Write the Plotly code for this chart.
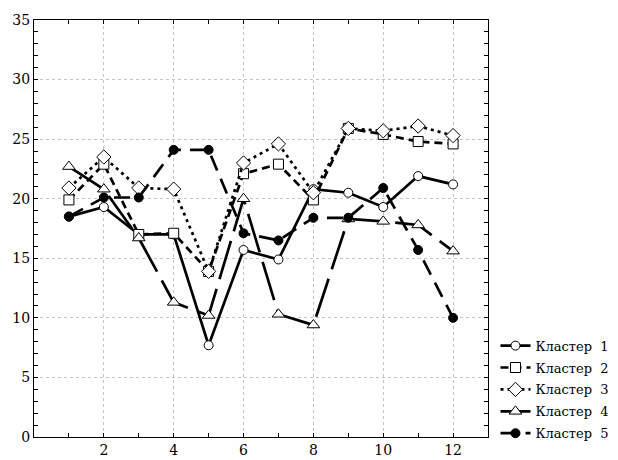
import plotly.graph_objects as go

months = [1, 2, 3, 4, 5, 6, 7, 8, 9, 10, 11, 12]
names = ["Кластер\u00a0\u00a01", "Кластер\u00a0\u00a02", "Кластер\u00a0\u00a03",
         "Кластер\u00a0\u00a04", "Кластер\u00a0\u00a05"]

cluster1 = [18.5, 19.3, 17.0, 17.0, 7.7, 15.7, 14.9, 20.8, 20.5, 19.3, 21.9, 21.2]
cluster2 = [19.9, 22.9, 17.0, 17.1, 13.9, 22.1, 22.9, 19.9, 25.9, 25.4, 24.8, 24.6]
cluster3 = [20.9, 23.5, 20.9, 20.8, 13.9, 23.0, 24.6, 20.5, 25.9, 25.7, 26.1, 25.3]
cluster4 = [22.7, 20.8, 16.7, 11.3, 10.2, 20.0, 10.3, 9.4, 18.3, 18.1, 17.8, 15.6]
cluster5 = [18.5, 20.1, 20.1, 24.1, 24.1, 17.1, 16.5, 18.4, 18.4, 20.9, 15.7, 10.0]

x_tick_vals = [2, 4, 6, 8, 10, 12]
y_tick_vals = [0, 5, 10, 15, 20, 25, 30, 35]

series = [cluster1, cluster2, cluster3, cluster4, cluster5]
styles = [
    dict(dash="solid", symbol="circle", size=9, fill="white"),
    dict(dash="8px,5px", symbol="square", size=10, fill="white"),
    dict(dash="3px,4px", symbol="diamond", size=11, fill="white"),
    dict(dash="40px,10px", symbol="triangle-up", size=11, fill="white"),
    dict(dash="16px,9px", symbol="circle", size=9, fill="black"),
]

SERIF = "DejaVu Serif"

fig = go.Figure()
for i, (name, vals, st) in enumerate(zip(names, series, styles)):
    fig.add_trace(go.Scatter(
        x=months, y=vals, name=name, mode="lines+markers",
        legendgroup=f"g{i}",
        line=dict(color="black", width=2.7, dash=st["dash"]),
        marker=dict(symbol=st["symbol"], size=st["size"], color=st["fill"],
                    line=dict(color="black", width=1)),
    ))

axis_common = dict(
    showline=True, linecolor="black", linewidth=1, mirror="allticks",
    ticks="inside", ticklen=4, tickcolor="black",
    showgrid=True, gridcolor="#c4c4c4", griddash="dot", gridwidth=1,
    zeroline=False, automargin=False,
    tickfont=dict(family=SERIF, size=14, color="black"),
)

fig.update_xaxes(range=[0, 13], tickvals=x_tick_vals,
                 minor=dict(dtick=1, tick0=0, ticks="inside", ticklen=4,
                            tickcolor="black", showgrid=False),
                 **axis_common)
fig.update_yaxes(range=[0, 35], tickvals=y_tick_vals,
                 minor=dict(dtick=1, tick0=0, ticks="inside", ticklen=4,
                            tickcolor="black", showgrid=False),
                 **axis_common)

# page body has an 8px margin: figure is shrunk by 8px on each dimension
fig.update_layout(
    width=610, height=452,
    margin=dict(l=26, r=130, t=12, b=23, autoexpand=False),
    paper_bgcolor="white", plot_bgcolor="white",
    font=dict(family=SERIF, color="black"),
    showlegend=True,
    legend=dict(x=1.0165, xanchor="left", y=0.255, yanchor="top",
                font=dict(family=SERIF, size=13, color="black"),
                traceorder="grouped", tracegroupgap=2,
                bgcolor="rgba(0,0,0,0)", borderwidth=0),
)

fig.write_html("out.html")
